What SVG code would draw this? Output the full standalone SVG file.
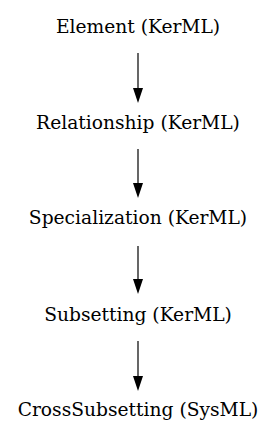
<svg xmlns="http://www.w3.org/2000/svg" width="276" height="443" viewBox="0 0 276 443">
<style>
text{font-family:"DejaVu Serif",serif;font-size:18.67px;fill:#000;text-anchor:middle}
.e{stroke:#000;stroke-width:1.2;fill:none}
</style>
<rect width="276" height="443" fill="#fff"/>
<g id="edges">
<path class="e" d="M138,53 V88"/><path d="M133,88 L143,88 L138,103 Z"/>
<path class="e" d="M138,149 V183"/><path d="M133,183 L143,183 L138,198 Z"/>
<path class="e" d="M138,246 V279"/><path d="M133,279 L143,279 L138,294 Z"/>
<path class="e" d="M138,341 V376"/><path d="M133,376 L143,376 L138,391 Z"/>
</g>
<g id="n1"><text x="138" y="33">Element (KerML)</text></g>
<g id="n2"><text x="138" y="129">Relationship (KerML)</text></g>
<g id="n3"><text x="138" y="224">Specialization (KerML)</text></g>
<g id="n4"><text x="138" y="321">Subsetting (KerML)</text></g>
<g id="n5"><text x="138" y="416">CrossSubsetting (SysML)</text></g>
</svg>
